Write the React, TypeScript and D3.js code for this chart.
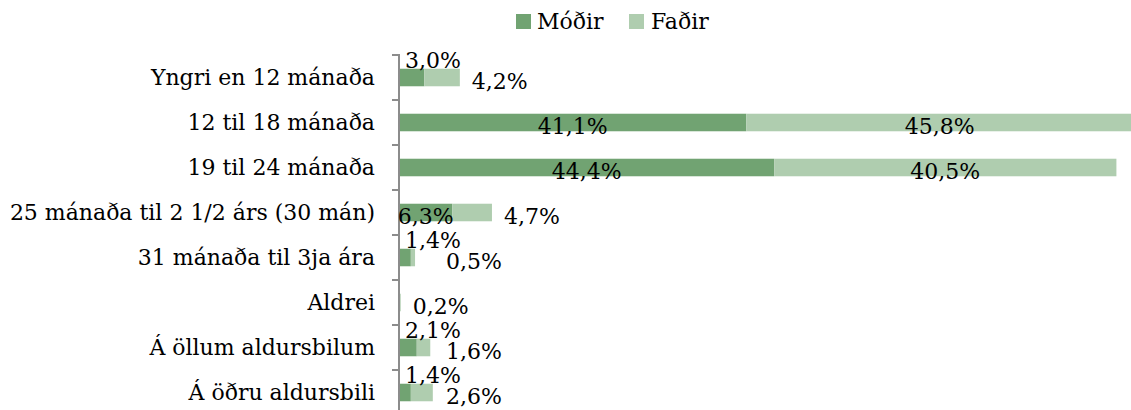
import * as d3 from 'd3'

const categories = [
  'Yngri en 12 mánaða',
  '12 til 18 mánaða',
  '19 til 24 mánaða',
  '25 mánaða til 2 1/2 árs (30 mán)',
  '31 mánaða til 3ja ára',
  'Aldrei',
  'Á öllum aldursbilum',
  'Á öðru aldursbili',
]
const modir = [3.0, 41.1, 44.4, 6.3, 1.4, 0, 2.1, 1.4]
const fadir = [4.2, 45.8, 40.5, 4.7, 0.5, 0.2, 1.6, 2.6]
const seriesNames = ['Móðir', 'Faðir']

const W = 1131
const H = 410
const FONT = "'DejaVu Serif', serif"
const FS = 22
const colors = ['#71a372', '#afcdaf']

const fmt = (v: number) => v.toFixed(1).replace('.', ',') + '%'

const App = () => {
  const x = d3.scaleLinear().domain([0, 100]).range([399, 1244])
  const y = d3.scaleBand().domain(categories).range([55, 415]).paddingInner(0.61).paddingOuter(0.305)
  const step = y.step()
  const bw = y.bandwidth()

  const rows = categories.map((c, i) => {
    const y0 = y(c) as number
    return {
      c,
      y0,
      x0: x(0),
      x1: x(modir[i]),
      x2: x(modir[i] + fadir[i]),
      m: modir[i],
      f: fadir[i],
    }
  })

  return (
    <svg width={W} height={H} style={{ position: 'absolute', left: 0, top: 0 }} fontFamily={FONT}>
      {/* legend */}
      <g fontSize={FS}>
        <rect x={516} y={14} width={15} height={15} fill={colors[0]} />
        <text x={537} y={29}>{seriesNames[0]}</text>
        <rect x={629} y={14} width={15} height={15} fill={colors[1]} />
        <text x={651} y={29}>{seriesNames[1]}</text>
      </g>

      {rows.map(r => (
        <g key={r.c}>
          <rect x={r.x0} y={r.y0} width={r.x1 - r.x0} height={bw} fill={colors[0]} />
          <rect x={r.x1} y={r.y0} width={r.x2 - r.x1} height={bw} fill={colors[1]} />
        </g>
      ))}

      {/* axis */}
      <g stroke="#8c8c8c" strokeWidth={2}>
        <line x1={399} x2={399} y1={54} y2={H} />
        {d3.range(categories.length + 1).map(k => (
          <line key={k} x1={392} x2={399} y1={55 + k * step} y2={55 + k * step} />
        ))}
      </g>

      {/* category labels */}
      {rows.map(r => (
        <text key={r.c} x={375} y={r.y0 + bw / 2} dy="0.35em" textAnchor="end" fontSize={FS}>
          {r.c}
        </text>
      ))}

      {/* value labels */}
      {rows.map(r => {
        const mid = r.y0 + bw / 2
        const out = []
        if (r.m > 0) {
          out.push(
            r.m > 5 ? (
              <text key="m" x={(r.x0 + r.x1) / 2} y={mid + 4} dy="0.35em" textAnchor="middle" fontSize={FS}>
                {fmt(r.m)}
              </text>
            ) : (
              <text key="m" x={r.x0 + 6} y={r.y0 - 1} fontSize={FS}>
                {fmt(r.m)}
              </text>
            )
          )
        }
        if (r.f > 0) {
          const fx = r.m > 0 && r.m <= 5 ? Math.max(r.x2 + 12, r.x0 + 47) : r.x2 + 12
          out.push(
            r.f > 5 ? (
              <text key="f" x={(r.x1 + r.x2) / 2} y={mid + 4} dy="0.35em" textAnchor="middle" fontSize={FS}>
                {fmt(r.f)}
              </text>
            ) : (
              <text key="f" x={fx} y={mid + 4} dy="0.35em" fontSize={FS}>
                {fmt(r.f)}
              </text>
            )
          )
        }
        return <g key={r.c}>{out}</g>
      })}
    </svg>
  )
}

export default App
